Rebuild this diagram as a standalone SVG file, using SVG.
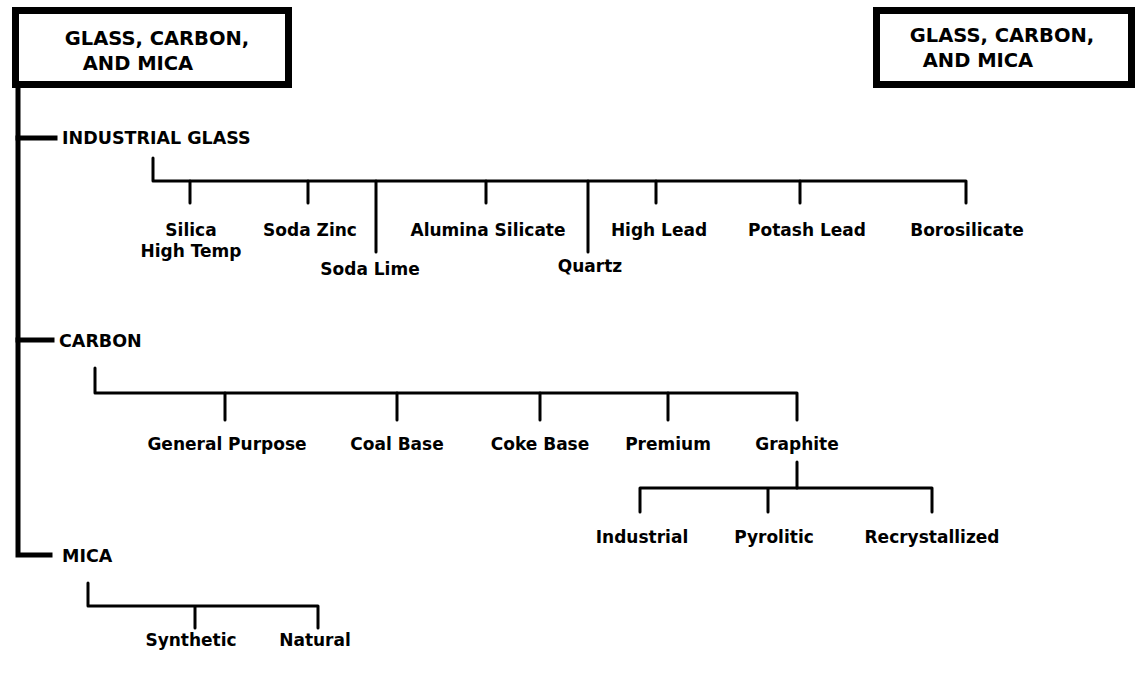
<svg xmlns="http://www.w3.org/2000/svg" width="1137" height="679" viewBox="0 0 1137 679">
  <style>
    .box { fill: #fff; stroke: #000; stroke-width: 7; }
    .title { font-family: "DejaVu Sans", "Liberation Sans", sans-serif; font-weight: bold; font-size: 19.5px; fill: #000; }
    .head { font-family: "DejaVu Sans", "Liberation Sans", sans-serif; font-weight: bold; font-size: 17.5px; fill: #000; }
    .leaf { font-family: "DejaVu Sans", "Liberation Sans", sans-serif; font-weight: bold; font-size: 17px; fill: #000; text-anchor: middle; }
    .trunk { fill: none; stroke: #000; stroke-width: 5; stroke-linecap: square; }
    .br { fill: none; stroke: #000; stroke-width: 3; stroke-linecap: round; stroke-linejoin: round; }
  </style>
  <rect width="1137" height="679" fill="#fff"/>

  <!-- connectors -->
  <g id="connectors">
    <!-- main trunk with branch stubs -->
    <path class="trunk" d="M18 88 V555 H50"/>
    <path class="trunk" d="M18 138 H55"/>
    <path class="trunk" d="M18 340 H52"/>
    <!-- industrial glass bracket -->
    <path class="br" d="M153 158 V181 H966 V203"/>
    <path class="br" d="M190 181 V203 M308 181 V203 M376 181 V252 M486 181 V203 M588 181 V252 M656 181 V203 M800 181 V203"/>
    <!-- carbon bracket -->
    <path class="br" d="M95 368 V393 H797 V420"/>
    <path class="br" d="M225 393 V420 M397 393 V420 M540 393 V420 M668 393 V420"/>
    <!-- graphite bracket -->
    <path class="br" d="M797 462 V488"/>
    <path class="br" d="M640 512 V488 H932 V512 M768 488 V512"/>
    <!-- mica bracket -->
    <path class="br" d="M88 583 V606 H318 V628 M195 606 V628"/>
  </g>

  <g id="title-left">
    <rect class="box" x="15.5" y="10.5" width="273" height="74"/>
    <text class="title" x="157" y="45" text-anchor="middle">GLASS, CARBON,</text>
    <text class="title" x="138" y="70" text-anchor="middle">AND MICA</text>
  </g>
  <g id="title-right">
    <rect class="box" x="876.5" y="10.5" width="255" height="74"/>
    <text class="title" x="1002" y="42" text-anchor="middle">GLASS, CARBON,</text>
    <text class="title" x="978" y="67" text-anchor="middle">AND MICA</text>
  </g>

  <g id="industrial-glass"><text class="head" x="62" y="144">INDUSTRIAL GLASS</text></g>
  <g id="silica"><text class="leaf" x="191" y="236">Silica</text><text class="leaf" x="191" y="257">High Temp</text></g>
  <g id="soda-zinc"><text class="leaf" x="310" y="236">Soda Zinc</text></g>
  <g id="soda-lime"><text class="leaf" x="370" y="275">Soda Lime</text></g>
  <g id="alumina-silicate"><text class="leaf" x="488" y="236">Alumina Silicate</text></g>
  <g id="quartz"><text class="leaf" x="590" y="272">Quartz</text></g>
  <g id="high-lead"><text class="leaf" x="659" y="236">High Lead</text></g>
  <g id="potash-lead"><text class="leaf" x="807" y="236">Potash Lead</text></g>
  <g id="borosilicate"><text class="leaf" x="967" y="236">Borosilicate</text></g>

  <g id="carbon"><text class="head" x="59" y="347">CARBON</text></g>
  <g id="general-purpose"><text class="leaf" x="227" y="450">General Purpose</text></g>
  <g id="coal-base"><text class="leaf" x="397" y="450">Coal Base</text></g>
  <g id="coke-base"><text class="leaf" x="540" y="450">Coke Base</text></g>
  <g id="premium"><text class="leaf" x="668" y="450">Premium</text></g>
  <g id="graphite"><text class="leaf" x="797" y="450">Graphite</text></g>
  <g id="industrial"><text class="leaf" x="642" y="543">Industrial</text></g>
  <g id="pyrolitic"><text class="leaf" x="774" y="543">Pyrolitic</text></g>
  <g id="recrystallized"><text class="leaf" x="932" y="543">Recrystallized</text></g>

  <g id="mica"><text class="head" x="62" y="562">MICA</text></g>
  <g id="synthetic"><text class="leaf" x="191" y="646">Synthetic</text></g>
  <g id="natural"><text class="leaf" x="315" y="646">Natural</text></g>
</svg>
